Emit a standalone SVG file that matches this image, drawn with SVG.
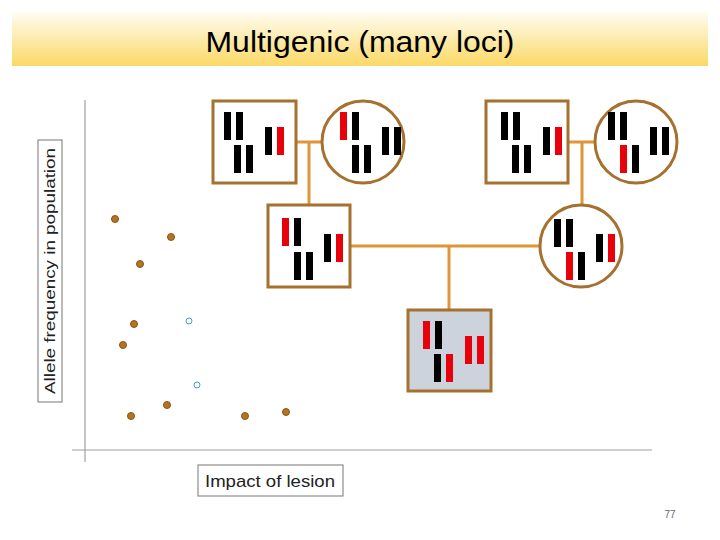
<svg xmlns="http://www.w3.org/2000/svg" width="720" height="540" viewBox="0 0 720 540">
<style>
.n{fill:#fff;stroke:#a6712f;stroke-width:3}
.k{fill:#000}.r{fill:#e8000b}
.c{stroke:#e0953a;stroke-width:3;fill:none}
.d{fill:#b5751f;stroke:#8a5514;stroke-width:1}
.t{font-family:"Liberation Sans",Arial,sans-serif}
</style>
<defs>
<linearGradient id="g" x1="0" y1="0" x2="0" y2="1"><stop offset="0" stop-color="#fffdf3"/><stop offset="1" stop-color="#fbd865"/></linearGradient>
<rect id="b" width="7" height="28"/>
</defs>
<rect x="12" y="12" width="696" height="54" fill="url(#g)"/>
<text class="t" x="360" y="52" font-size="29" text-anchor="middle" textLength="309" lengthAdjust="spacingAndGlyphs">Multigenic (many loci)</text>
<g stroke="#a0a0a0" stroke-width="1.2">
<line x1="85" y1="100" x2="85" y2="462"/>
<line x1="72" y1="450" x2="652" y2="450"/>
</g>
<g id="ylabel"><rect x="38" y="140" width="24" height="262" fill="#fff" stroke="#777"/>
<text class="t" transform="translate(55,271) rotate(-90)" font-size="15" text-anchor="middle" fill="#222" textLength="246" lengthAdjust="spacingAndGlyphs">Allele frequency in population</text></g>
<g id="xlabel"><rect x="198" y="465" width="145" height="31" fill="#fff" stroke="#777"/>
<text class="t" x="270" y="487" font-size="17" text-anchor="middle" fill="#222" textLength="130" lengthAdjust="spacingAndGlyphs">Impact of lesion</text></g>
<g id="connectors" class="c">
<path d="M296 142H322M309 142V205"/>
<path d="M568 142H595M582 142V205"/>
<path d="M350 246H540M449 246V310"/>
</g>
<g id="dots">
<g class="d"><circle cx="115" cy="219" r="3.5"/><circle cx="171" cy="237" r="3.5"/><circle cx="140" cy="264" r="3.5"/><circle cx="134" cy="324" r="3.5"/><circle cx="123" cy="345" r="3.5"/><circle cx="131" cy="416" r="3.5"/><circle cx="167" cy="405" r="3.5"/><circle cx="245" cy="416" r="3.5"/><circle cx="286" cy="412" r="3.5"/></g>
<g fill="#fff" stroke="#4a9fd0"><circle cx="189" cy="321" r="3"/><circle cx="197" cy="385" r="3"/></g>
</g>
<g id="n1"><rect class="n" x="213" y="101" width="83" height="82"/>
<use href="#b" class="k" x="224" y="112"/><use href="#b" class="k" x="236" y="112"/>
<use href="#b" class="k" x="234" y="145"/><use href="#b" class="k" x="246" y="145"/>
<use href="#b" class="k" x="265" y="127"/><use href="#b" class="r" x="277" y="127"/></g>
<g id="n2"><circle class="n" cx="363" cy="142" r="41"/>
<use href="#b" class="r" x="340" y="112"/><use href="#b" class="k" x="352" y="112"/>
<use href="#b" class="k" x="352" y="145"/><use href="#b" class="k" x="364" y="145"/>
<use href="#b" class="k" x="382" y="127"/><use href="#b" class="k" x="394" y="127"/></g>
<g id="n3"><rect class="n" x="268" y="205" width="82" height="82"/>
<use href="#b" class="r" x="282" y="218"/><use href="#b" class="k" x="294" y="218"/>
<use href="#b" class="k" x="294" y="252"/><use href="#b" class="k" x="306" y="252"/>
<use href="#b" class="k" x="324" y="234"/><use href="#b" class="r" x="336" y="234"/></g>
<g id="n4"><rect class="n" x="486" y="101" width="82" height="82"/>
<use href="#b" class="k" x="501" y="112"/><use href="#b" class="k" x="513" y="112"/>
<use href="#b" class="k" x="512" y="145"/><use href="#b" class="k" x="524" y="145"/>
<use href="#b" class="k" x="543" y="127"/><use href="#b" class="r" x="555" y="127"/></g>
<g id="n5"><circle class="n" cx="636" cy="142" r="41"/>
<use href="#b" class="k" x="608" y="112"/><use href="#b" class="k" x="620" y="112"/>
<use href="#b" class="r" x="620" y="145"/><use href="#b" class="k" x="632" y="145"/>
<use href="#b" class="k" x="650" y="127"/><use href="#b" class="k" x="662" y="127"/></g>
<g id="n6"><circle class="n" cx="581" cy="246" r="41"/>
<use href="#b" class="k" x="554" y="219"/><use href="#b" class="k" x="566" y="219"/>
<use href="#b" class="r" x="566" y="252"/><use href="#b" class="k" x="578" y="252"/>
<use href="#b" class="k" x="596" y="234"/><use href="#b" class="r" x="608" y="234"/></g>
<g id="n7"><rect class="n" x="408" y="310" width="83" height="81" style="fill:#cdd3dc"/>
<use href="#b" class="r" x="423" y="321"/><use href="#b" class="k" x="435" y="321"/>
<use href="#b" class="k" x="434" y="354"/><use href="#b" class="r" x="446" y="354"/>
<use href="#b" class="r" x="465" y="336"/><use href="#b" class="r" x="477" y="336"/></g>
<text class="t" x="670" y="518" font-size="10" text-anchor="middle" fill="#666">77</text>
</svg>
